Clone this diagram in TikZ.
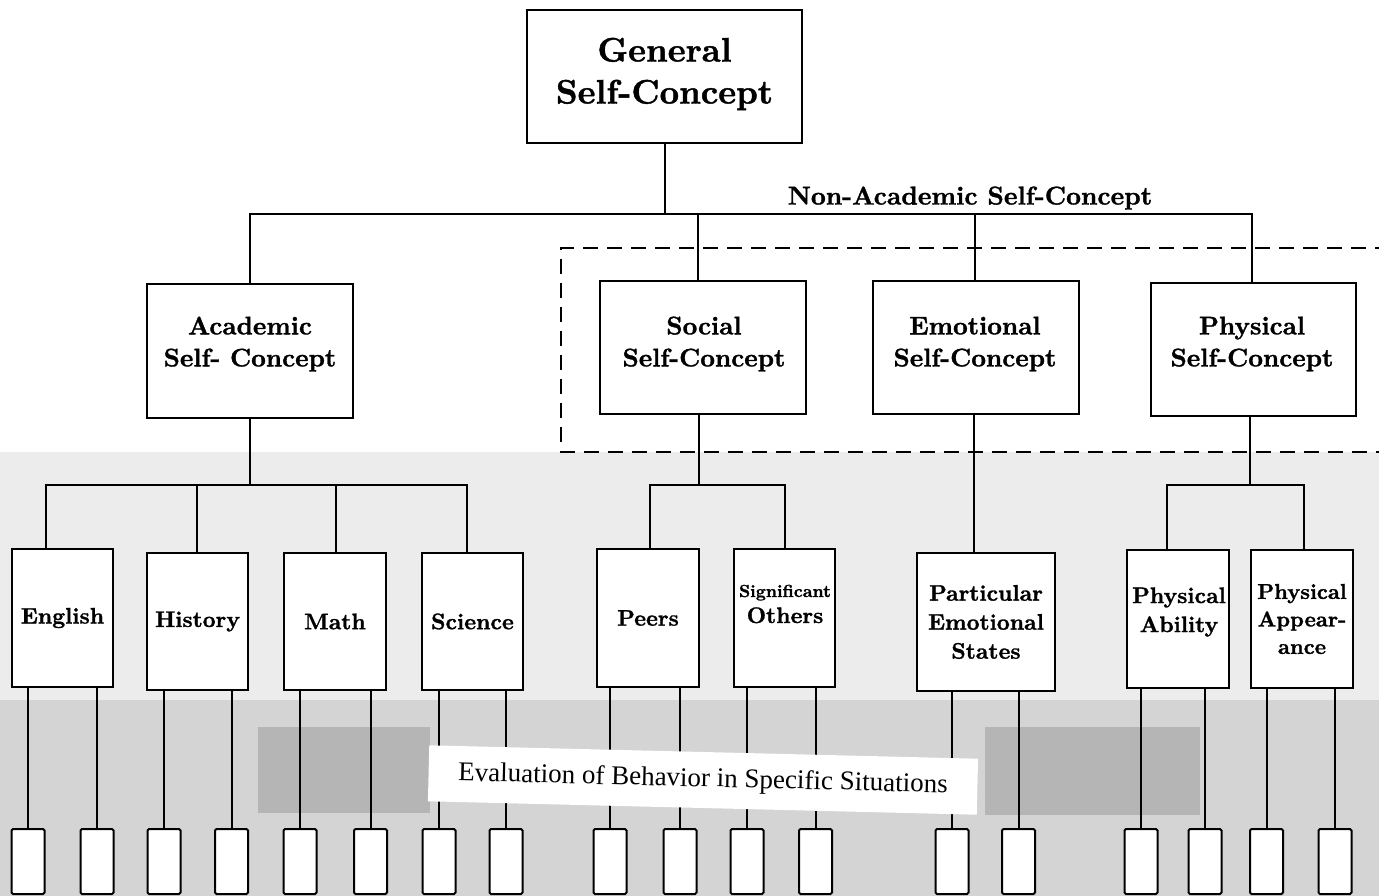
\documentclass[tikz,border=0pt]{standalone}
\usepackage{fontspec}
\newfontfamily\evalfont{Liberation Serif}
\newfontfamily\hb{lmroman10-bold.otf}[FakeBold=1.2]
\begin{document}
\begin{tikzpicture}[x=1pt,y=-1pt,
  bx/.style={draw=black,line width=2pt,fill=white,inner sep=0pt,align=center},
  leaf/.style={draw=black,line width=2pt,fill=white,inner sep=0pt,minimum width=33,minimum height=65,rounded corners=1.5pt},
  conn/.style={draw=black,line width=2pt},
  grp/.style={draw=black,line width=1.5pt,dash pattern=on 15pt off 9pt},
  tA/.style={align=center,font=\hb\fontsize{34}{42}\selectfont},
  tB/.style={align=center,font=\hb\fontsize{25.5}{32}\selectfont},
  tC/.style={align=center,font=\hb\fontsize{22.5}{29}\selectfont},
  evalbox/.style={fill=white,inner sep=0pt,minimum width=549,minimum height=56,rotate=-1.4,font=\evalfont\fontsize{27}{30}\selectfont}
]
\useasboundingbox (0,0) rectangle (1379,896);
% scanned background tone
\fill[gray!15] (0,452) rectangle (1379,896);
\fill[gray!34] (0,700) rectangle (1379,896);
\fill[gray!58] (258,727) rectangle (430,813);
\fill[gray!58] (985,727) rectangle (1200,815);

% group of non-academic facets
\draw[grp] (1390,248) -- (561,248) -- (561,452) -- (1390,452);

% level 1
\node[bx,minimum width=275,minimum height=133] (gen) at (664.5,76.5) {};
\node[tA] (gentx) at (664.5,74) {General\\Self-Concept};
\node[font=\hb\fontsize{25.8}{30}\selectfont] (nonac) at (970,198) {Non-Academic Self-Concept};

% level 2
\node[bx,minimum width=206,minimum height=134] (acad) at (250,351) {};
\node[tB] (acadtx) at (250,344) {Academic\\Self- Concept};
\node[bx,minimum width=206,minimum height=133] (soc) at (703,347.5) {};
\node[tB] (soctx) at (704,344) {Social\\Self-Concept};
\node[bx,minimum width=206,minimum height=133] (emo) at (976,347.5) {};
\node[tB] (emotx) at (975,344) {Emotional\\Self-Concept};
\node[bx,minimum width=205,minimum height=133] (phys) at (1253.5,349.5) {};
\node[tB] (phystx) at (1252,344) {Physical\\Self-Concept};

% level 3
\node[bx,tC,minimum width=101,minimum height=138] (eng) at (62.5,618) {English};
\node[bx,tC,minimum width=101,minimum height=137] (hist) at (197.5,621.5) {History};
\node[bx,tC,minimum width=102,minimum height=137] (math) at (335,621.5) {Math};
\node[bx,tC,minimum width=101,minimum height=137] (sci) at (472.5,621.5) {Science};
\node[bx,tC,minimum width=102,minimum height=138] (peers) at (648,618) {Peers};
\node[bx,minimum width=101,minimum height=138] (sig) at (784.5,618) {};
\node[tC] (sigtx) at (785,604) {{\fontsize{17.5}{24}\selectfont Significant}\\[-3pt]Others};
\node[bx,tC,minimum width=138,minimum height=138] (pes) at (986,622) {Particular\\Emotional\\States};
\node[bx,minimum width=102,minimum height=138] (pa) at (1178,619) {};
\node[tC] (patx) at (1179,612) {Physical\\Ability};
\node[bx,align=center,minimum width=102,minimum height=138,font=\hb\fontsize{21.5}{27.5}\selectfont] (papp) at (1302,619) {Physical\\Appear-\\ance};

% bus coordinates
\coordinate (jG) at (664.5,214);
\coordinate (jA) at (250,214);
\coordinate (jS) at (698,214);
\coordinate (jE) at (975,214);
\coordinate (jP) at (1252,214);
\coordinate (kE) at (46,485);
\coordinate (kH) at (197,485);
\coordinate (kM) at (336,485);
\coordinate (kSc) at (467,485);
\coordinate (kS0) at (699,485);
\coordinate (kPe) at (650,485);
\coordinate (kSi) at (785,485);
\coordinate (kEm) at (974,485);
\coordinate (kP0) at (1250,485);
\coordinate (kPA) at (1167,485);
\coordinate (kPP) at (1304,485);

% connectors level 1 -> 2
\draw[conn] (gen.south) -- (jG);
\draw[conn] (acad.north) -- (jA) -- (jP) -- (jP |- phys.north);
\draw[conn] (jS) -- (jS |- soc.north);
\draw[conn] (jE) -- (jE |- emo.north);

% connectors level 2 -> 3
\draw[conn] (acad.south) -- (acad.south |- kE);
\draw[conn] (kE |- eng.north) -- (kE) -- (kSc) -- (kSc |- sci.north);
\draw[conn] (kH) -- (kH |- hist.north);
\draw[conn] (kM) -- (kM |- math.north);
\draw[conn] (kS0 |- soc.south) -- (kS0);
\draw[conn] (kPe |- peers.north) -- (kPe) -- (kSi) -- (kSi |- sig.north);
\draw[conn] (kEm |- emo.south) -- (kEm |- pes.north);
\draw[conn] (kP0 |- phys.south) -- (kP0);
\draw[conn] (kPA |- pa.north) -- (kPA) -- (kPP) -- (kPP |- papp.north);

% leaves
\foreach \x [count=\i] in {28,97,164,231.5,300,370.5,439,506,610,680,747,815.5,952,1018.5,1141,1205,1266.5,1335}
  \node[leaf] (l\i) at (\x,861.5) {};
\foreach \i/\p in {1/eng,2/eng,3/hist,4/hist,5/math,6/math,7/sci,8/sci,9/peers,10/peers,11/sig,12/sig,13/pes,14/pes,15/pa,16/pa,17/papp,18/papp}
  \draw[conn] (l\i.north |- \p.south) -- (l\i.north);

% overlay label
\node[evalbox] (ev) at (703,780) {Evaluation of Behavior in Specific Situations};
\end{tikzpicture}
\end{document}
